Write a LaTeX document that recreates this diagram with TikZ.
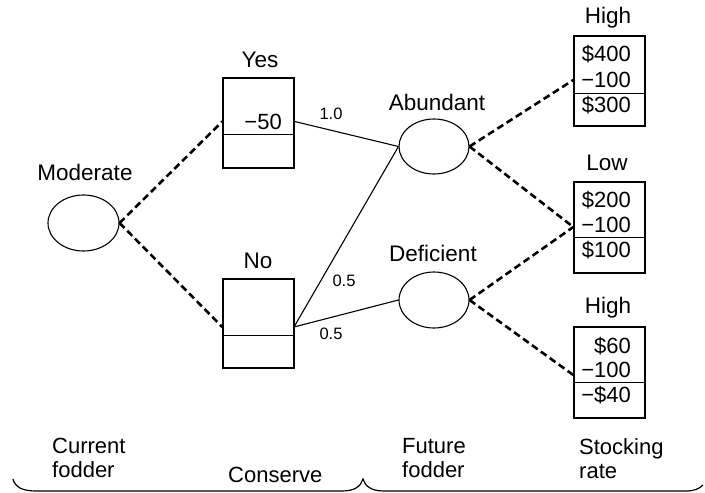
\documentclass[tikz,border=0pt]{standalone}
\usepackage{fontspec}
\setmainfont{Liberation Sans}
\usetikzlibrary{shapes.geometric,calc}

\begin{document}
\begin{tikzpicture}[x=1pt,y=-1pt,
  chance/.style={draw, ellipse, line width=1.1pt, inner sep=0pt,
    minimum width=70pt, minimum height=55pt},
  decision/.style={draw, rectangle, line width=1.4pt, inner sep=0pt,
    minimum width=71pt, minimum height=90pt},
  branch/.style={line width=2.6pt, dash pattern=on 7pt off 4pt},
  link/.style={line width=1.1pt},
  lbl/.style={inner sep=0pt, font=\fontsize{22.5}{24}\selectfont},
  val/.style={inner sep=0pt, anchor=east, font=\fontsize{22}{24}\selectfont},
  prob/.style={inner sep=0pt, font=\fontsize{16.5}{18}\selectfont},
  stage/.style={inner sep=0pt, anchor=north west, align=left,
    font=\fontsize{22}{24}\selectfont},
  brace/.style={line width=1.2pt}]

\useasboundingbox (0,0) rectangle (705,493);

% chance nodes
\node[chance, minimum width=71pt, minimum height=56pt] (mod) at (83.5,223) {};
\node[chance] (abd) at (434,146.5) {};
\node[chance, minimum height=56pt] (def) at (434,300) {};
\node[lbl] (modl) at (85,172) {Moderate};
\node[lbl] (abdl) at (437,102) {Abundant};
\node[lbl] (defl) at (433,253) {Deficient};

% decision boxes
\node[decision] (yes) at (258.5,123) {};
\node[decision, minimum height=89pt] (no) at (258.5,323.5) {};
\draw[line width=1.4pt] ([yshift=34pt]yes.south west) -- ([yshift=34pt]yes.south east);
\draw[line width=1.4pt] ([yshift=33pt]no.south west) -- ([yshift=33pt]no.south east);
\node[lbl] (yesl) at (260,60) {Yes};
\node[lbl] (nol) at (258,261) {No};
\node[val] (m50) at (282,121.5) {−50};
\coordinate (nop) at (294,327);

% payoff boxes
\node[decision] (hi1) at (609.5,81) {};
\node[decision, minimum height=91pt] (low) at (609.5,227.5) {};
\node[decision, minimum height=91pt] (hi2) at (609.5,372.5) {};
\draw[line width=1.4pt] ([yshift=33pt]hi1.south west) -- ([yshift=33pt]hi1.south east);
\draw[line width=1.4pt] ([yshift=36pt]low.south west) -- ([yshift=36pt]low.south east);
\draw[line width=1.4pt] ([yshift=36pt]hi2.south west) -- ([yshift=36pt]hi2.south east);
\node[lbl] (hi1l) at (608,18) {High};
\node[lbl] (lowl) at (607,163) {Low};
\node[lbl] (hi2l) at (608,308) {High};

\node[val] (hi1a) at (631,54) {\$400};
\node[val] (hi1b) at (631,80) {−100};
\node[val] (hi1c) at (631,105) {\$300};
\node[val] (lowa) at (631,200) {\$200};
\node[val] (lowb) at (631,225) {−100};
\node[val] (lowc) at (631,250) {\$100};
\node[val] (hi2a) at (631,346) {\$60};
\node[val] (hi2b) at (631,370) {−100};
\node[val] (hi2c) at (631,395) {−\$40};

% branches
\draw[branch] (mod.east) -- (yes.west |- m50);
\draw[branch] (mod.east) -- (no.west |- nop);
\draw[link] (yes.east |- m50) -- (abd.west);
\draw[link] (nop) -- (abd.west);
\draw[link] (nop) -- (def.west);
\draw[branch] (abd.east) -- (hi1.west |- hi1b);
\draw[branch] (abd.east) -- ([yshift=-2pt]low.west |- lowb);
\draw[branch] (def.east) -- ([yshift=-2pt]low.west |- lowb);
\draw[branch] (def.east) -- ([yshift=-5pt]hi2.west |- hi2b);

% probabilities
\node[prob] (p1) at (331,114) {1.0};
\node[prob] (p2) at (344,281) {0.5};
\node[prob] (p3) at (331,334) {0.5};

% stage labels
\node[stage] (s1) at (52,438) {Current\\fodder};
\node[lbl, anchor=base west, font=\fontsize{22}{24}\selectfont] (s2) at (228,482) {Conserve};
\node[stage] (s3) at (402,438) {Future\\fodder};
\node[stage] (s4) at (579,438) {Stocking\\rate};

% braces
\draw[brace] (13,479) .. controls (15,487) and (22,491) .. (36,491)
  -- (342,491) .. controls (355,491) and (361,486) .. (363,479)
  .. controls (365,486) and (371,491) .. (384,491)
  -- (686,491) .. controls (694,491) and (699,489) .. (703,485);
\end{tikzpicture}
\end{document}
